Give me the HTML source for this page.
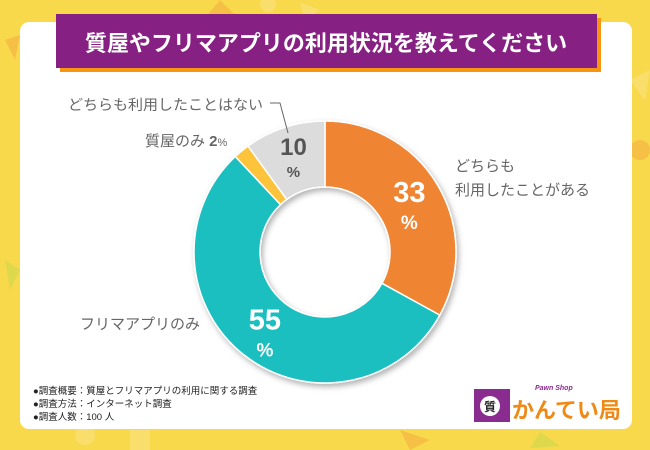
<!DOCTYPE html>
<html><head><meta charset="utf-8">
<style>
body{margin:0;width:650px;height:450px;overflow:hidden;background:#f8d94c;font-family:"Liberation Sans","Noto Sans CJK JP",sans-serif;}
svg{display:block}
</style></head>
<body>
<svg width="650" height="450" viewBox="0 0 650 450">
  <g opacity="0.5">
    <polygon points="220,0 240,20 205,18" fill="#f4a741"/>
    <circle cx="268" cy="4" r="8" fill="#fbe38c"/>
    <polygon points="300,2 320,10 305,20" fill="#fbe38c"/>
    <polygon points="400,430 430,440 410,450" fill="#f4a741"/>
    <circle cx="85" cy="435" r="10" fill="#fbe38c"/>
    <polygon points="5,40 20,35 15,60" fill="#f4a741"/>
    <polygon points="5,260 20,270 10,290" fill="#c4d74c"/>
    <circle cx="640" cy="150" r="10" fill="#f4a741"/>
    <polygon points="630,80 650,70 645,100" fill="#fbe38c"/>
    <rect x="130" y="430" width="20" height="20" fill="#fbe38c"/>
    <polygon points="540,432 560,446 530,448" fill="#c4d74c"/>
  </g>
  <rect x="20" y="22" width="612" height="407" rx="9" fill="#fff"/>
  <rect x="60" y="18" width="541" height="54" fill="#f6950f"/>
  <rect x="56" y="14" width="541" height="54" fill="#862082"/>
  <text x="326" y="51" text-anchor="middle" font-size="22" font-weight="bold" fill="#fff">質屋やフリマアプリの利用状況を教えてください</text>
  <defs>
    <filter id="sh" x="-20%" y="-20%" width="140%" height="140%"><feDropShadow dx="2" dy="3" stdDeviation="3" flood-color="#000" flood-opacity="0.3"/></filter>
  </defs>
  <g id="donut" filter="url(#sh)"></g>
  <g id="labels"></g>
  <g fill="#666" font-size="15">
    <text x="455" y="171">どちらも</text>
    <text x="455" y="195">利用したことがある</text>
    <text x="80" y="329">フリマアプリのみ</text>
    <text x="145" y="146">質屋のみ <tspan font-weight="bold">2</tspan><tspan font-size="11">%</tspan></text>
    <text x="68" y="110" font-size="14.5" textLength="195" lengthAdjust="spacingAndGlyphs">どちらも利用したことはない</text>
  </g>
  <polyline points="270,103 280,103 288,133" fill="none" stroke="#666" stroke-width="1"/>
  <g font-size="9.5" fill="#222">
    <text x="33" y="394">●調査概要：質屋とフリマアプリの利用に関する調査</text>
    <text x="33" y="407">●調査方法：インターネット調査</text>
    <text x="33" y="420">●調査人数：100 人</text>
  </g>
  <g>
    <rect x="474" y="389" width="36" height="33" fill="#8a2b8f"/>
    <circle cx="490" cy="406" r="10" fill="#fff"/>
    <text x="490" y="411" text-anchor="middle" font-size="12" font-weight="bold" fill="#222">質</text>
    <text x="535" y="390" font-size="7" font-style="italic" font-weight="bold" fill="#8a2b8f">Pawn  Shop</text>
    <text x="512" y="418" font-size="22" font-weight="bold" fill="#f08a16">かんてい局</text>
  </g>
  <script>
  const categories=["どちらも利用したことがある","フリマアプリのみ","質屋のみ","どちらも利用したことはない"];
  const values=[33,55,2,10];
  const colors=["#ef8433","#1bbfc0","#fcc33a","#dcdcdc"];
  const cx=325,cy=252,R=131,r=65;
  const ns="http://www.w3.org/2000/svg";
  const g=document.getElementById('donut'),lg=document.getElementById('labels');
  const total=values.reduce((a,b)=>a+b,0);
  function pt(a,rad){return [cx+rad*Math.sin(a),cy-rad*Math.cos(a)];}
  let acc=0;
  values.forEach((v,i)=>{
    const a0=acc/total*2*Math.PI;acc+=v;const a1=acc/total*2*Math.PI;
    const big=(a1-a0)>Math.PI?1:0;
    const p0=pt(a0,R),p1=pt(a1,R),q1=pt(a1,r),q0=pt(a0,r);
    const p=document.createElementNS(ns,'path');
    p.setAttribute('d',`M${p0} A${R},${R} 0 ${big} 1 ${p1} L${q1} A${r},${r} 0 ${big} 0 ${q0}Z`);
    p.setAttribute('fill',colors[i]);p.setAttribute('stroke','#fff');p.setAttribute('stroke-width','1.5');
    
    
    g.appendChild(p);
    if(v>=5){
      const m=(a0+a1)/2;const c=pt(m,(R+r)/2+ (v<20?4:0));
      const fill=v<20?'#555':'#fff';
      const t=document.createElementNS(ns,'text');
      t.setAttribute('x',c[0]);t.setAttribute('y',c[1]+(v<20?0:0));
      t.setAttribute('text-anchor','middle');t.setAttribute('font-size',v<20?'24':'29');
      t.setAttribute('font-weight','bold');t.setAttribute('fill',fill);
      t.textContent=v;
      
      
      lg.appendChild(t);
      const t2=document.createElementNS(ns,'text');
      t2.setAttribute('x',c[0]);t2.setAttribute('y',c[1]+(v<20?22:27));
      t2.setAttribute('text-anchor','middle');t2.setAttribute('font-size',v<20?'15':'19');
      t2.setAttribute('font-weight','bold');t2.setAttribute('fill',fill);
      t2.textContent='%';
      
      
      lg.appendChild(t2);
    }
  });
  </script>
</svg>
</body></html>
